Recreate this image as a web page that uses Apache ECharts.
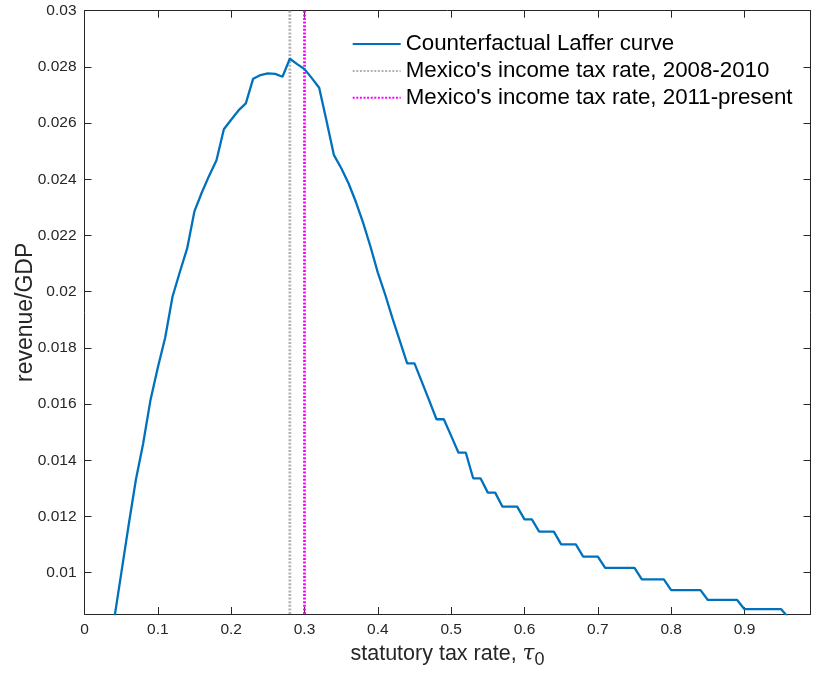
<!DOCTYPE html>
<html>
<head>
<meta charset="utf-8">
<script src="https://cdn.jsdelivr.net/npm/echarts@6/dist/echarts.min.js"></script>
<style>
html,body{margin:0;padding:0;background:#fff;}
#chart{width:813px;height:673px;}
</style>
</head>
<body>
<div id="chart"></div>
<script>
// ---- data ----
const taxRate = [0.04,0.05,0.06,0.07,0.08,0.09,0.10,0.11,0.12,0.13,0.14,0.15,0.16,0.17,0.18,0.19,0.20,
  0.21,0.22,0.23,0.24,0.25,0.26,0.27,0.28,0.29,0.30,0.31,0.32,0.33,0.34,0.35,0.36,0.37,0.38,0.39,0.40,
  0.41,0.42,0.43,0.44,0.45,0.46,0.47,0.48,0.49,0.50,0.51,0.52,0.53,0.54,0.55,0.56,0.57,0.58,0.59,0.60,
  0.61,0.62,0.63,0.64,0.65,0.66,0.67,0.68,0.69,0.70,0.71,0.72,0.73,0.74,0.75,0.76,0.77,0.78,0.79,0.80,
  0.81,0.82,0.83,0.84,0.85,0.86,0.87,0.88,0.89,0.90,0.91,0.92,0.93,0.94,0.95,0.96];
const revenueGDP = [0.00826,0.00996,0.01166,0.01330,0.01460,0.01615,0.01730,0.01836,0.01982,0.02070,0.02154,0.02287,0.02353,0.02413,0.02468,0.02578,0.02612,
  0.02645,0.02670,0.02758,0.02771,0.02777,0.02775,0.02765,0.02829,0.02810,0.02792,0.02760,0.02726,0.02608,0.02487,0.02440,0.02386,0.02320,0.02245,0.02160,0.02068,
  0.01990,0.01905,0.01825,0.01745,0.01745,0.01679,0.01613,0.01546,0.01546,0.01487,0.01427,0.01427,0.01336,0.01336,0.01285,0.01285,0.01235,0.01235,0.01235,0.01190,
  0.01190,0.01146,0.01146,0.01146,0.01101,0.01101,0.01101,0.01057,0.01057,0.01057,0.01017,0.01017,0.01017,0.01017,0.01017,0.00976,0.00976,0.00976,0.00976,0.00938,
  0.00938,0.00938,0.00938,0.00938,0.00903,0.00903,0.00903,0.00903,0.00903,0.00870,0.00870,0.00870,0.00870,0.00870,0.00870,0.00840];
const rate2008 = 0.28;
const rate2011 = 0.30;
const seriesNames = ['Counterfactual Laffer curve', "Mexico's income tax rate, 2008-2010", "Mexico's income tax rate, 2011-present"];
const xTicks = [0,0.1,0.2,0.3,0.4,0.5,0.6,0.7,0.8,0.9];
const yTicks = [0.01,0.012,0.014,0.016,0.018,0.02,0.022,0.024,0.026,0.028,0.03];
const xMin = 0, xMax = 0.99;
const yMin = 0.00853, yMax = 0.03;

// ---- chart ----
const chart = echarts.init(document.getElementById('chart'), null, {renderer:'canvas'});
const axisColor = '#262626';
const tickFont = 'Liberation Sans, Arial, Helvetica, sans-serif';
const fmtX = v => String(+(+v).toFixed(2));
const fmtY = v => String(+(+v).toFixed(3));

const baseX = {
  type:'value', min:xMin, max:xMax, splitLine:{show:false},
  axisLine:{show:true, onZero:false, lineStyle:{color:axisColor, width:1}},
  axisTick:{show:true, inside:true, length:7, customValues:xTicks, lineStyle:{color:axisColor}},
};
const baseY = {
  type:'value', min:yMin, max:yMax, splitLine:{show:false},
  axisLine:{show:true, onZero:false, lineStyle:{color:axisColor, width:1}},
  axisTick:{show:true, inside:true, length:7, customValues:yTicks, lineStyle:{color:axisColor}},
};

chart.setOption({
  animation:false,
  backgroundColor:'#ffffff',
  grid:{left:84.5, right:2.5, top:10.7, bottom:59, containLabel:false, outerBoundsMode:'none'},
  legend:{
    show:true, orient:'vertical', left:346.7, top:26,
    itemWidth:48, itemHeight:14, itemGap:0.9,
    data:seriesNames,
    itemStyle:{opacity:0},
    textStyle:{color:'#000', fontSize:22.3, lineHeight:26, fontFamily:tickFont},
    selectedMode:false
  },
  xAxis:[
    Object.assign({}, baseX, {
      position:'bottom',
      axisLabel:{show:true, customValues:xTicks, formatter:fmtX, color:axisColor, fontSize:15.5, margin:8, fontFamily:tickFont},
      name:'statutory tax rate, {tau|τ}{sub|0}',
      nameLocation:'middle', nameGap:24.5, nameMoveOverlap:false,
      nameTextStyle:{color:axisColor, fontSize:21.5, fontFamily:tickFont,
        rich:{tau:{fontSize:21.5, fontStyle:'italic', fontFamily:'DejaVu Serif, serif', color:axisColor},
              sub:{fontSize:18, color:axisColor, fontFamily:tickFont, padding:[13,0,0,0]}}}
    }),
    Object.assign({}, baseX, {position:'top', axisLabel:{show:false}})
  ],
  yAxis:[
    Object.assign({}, baseY, {
      position:'left',
      axisLabel:{show:true, customValues:yTicks, formatter:fmtY, color:axisColor, fontSize:15.5, margin:8, fontFamily:tickFont},
      name:'revenue/GDP', nameLocation:'middle', nameGap:47, nameRotate:90, nameMoveOverlap:false,
      nameTextStyle:{color:axisColor, fontSize:23, fontFamily:tickFont}
    }),
    Object.assign({}, baseY, {position:'right', axisLabel:{show:false}})
  ],
  series:[
    {
      name:seriesNames[0], type:'line', xAxisIndex:0, yAxisIndex:0,
      data:taxRate.map((x,i)=>[x, revenueGDP[i]]),
      symbol:'none', clip:true,
      lineStyle:{color:'#0072BD', width:2.3},
      itemStyle:{color:'#0072BD'},
      z:3
    },
    {
      name:seriesNames[1], type:'line', xAxisIndex:0, yAxisIndex:0,
      data:[[rate2008, yMin],[rate2008, yMax]],
      symbol:'none', clip:true,
      lineStyle:{color:'#b3b3b3', width:2.8, type:[2,1.6]},
      itemStyle:{color:'#b3b3b3'},
      z:2
    },
    {
      name:seriesNames[2], type:'line', xAxisIndex:0, yAxisIndex:0,
      data:[[rate2011, yMin],[rate2011, yMax]],
      symbol:'none', clip:true,
      lineStyle:{color:'#ff00ff', width:2.8, type:[2,1.6]},
      itemStyle:{color:'#ff00ff'},
      z:2
    }
  ]
});
</script>
</body>
</html>
